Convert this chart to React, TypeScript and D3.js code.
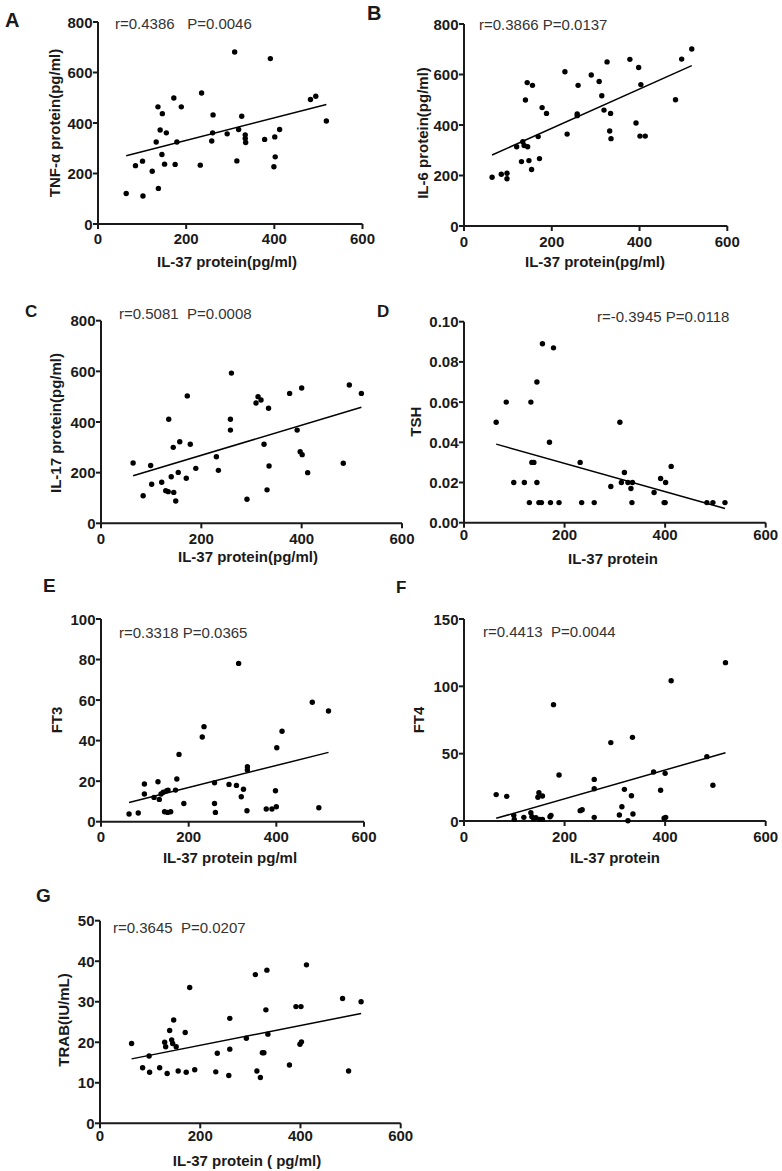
import React from "react";
import * as d3 from "d3";

// ---------- Data ----------
// A: TNF-α vs IL-37
const A_IL37 = [64, 85, 101, 102, 123, 132, 136, 137, 141, 146, 145, 151, 155, 172, 175, 179, 189, 232, 235, 258, 260, 261, 293, 310, 315, 319, 326, 334, 334, 335, 378, 391, 399, 401, 402, 412, 482, 494, 518];
const A_TNF = [121, 231, 249, 111, 209, 325, 464, 141, 372, 437, 275, 237, 361, 499, 236, 325, 464, 233, 519, 329, 361, 432, 357, 681, 250, 374, 427, 353, 339, 323, 335, 655, 227, 345, 266, 374, 493, 506, 408];
const A_FIT_X = [64, 518];
const A_FIT_Y = [270, 473];

// B: IL-6 vs IL-37
const B_IL37 = [64, 85, 98, 98, 120, 131, 134, 137, 140, 144, 145, 148, 154, 156, 169, 172, 178, 188, 230, 235, 258, 258, 260, 290, 308, 314, 319, 326, 332, 334, 335, 378, 392, 398, 401, 403, 413, 482, 496, 519];
const B_IL6 = [193, 205, 209, 187, 314, 255, 334, 319, 499, 568, 314, 259, 224, 557, 354, 267, 469, 446, 611, 364, 444, 437, 557, 598, 572, 516, 459, 650, 376, 446, 346, 660, 408, 628, 356, 560, 356, 500, 661, 701];
const B_FIT_X = [64, 519];
const B_FIT_Y = [281, 635];

// C: IL-17 vs IL-37
const C_IL37 = [64, 84, 99, 101, 121, 129, 134, 135, 140, 144, 145, 149, 154, 157, 170, 172, 178, 189, 230, 234, 258, 258, 260, 291, 309, 313, 319, 325, 331, 334, 335, 376, 391, 397, 400, 401, 412, 483, 495, 519];
const C_IL17 = [238, 109, 228, 154, 162, 129, 125, 411, 184, 300, 122, 88, 201, 322, 178, 503, 312, 217, 263, 209, 411, 368, 593, 95, 475, 500, 487, 312, 132, 454, 226, 513, 368, 283, 534, 271, 200, 237, 546, 513];
const C_FIT_X = [64, 519];
const C_FIT_Y = [188, 458];

// D: TSH vs IL-37
const D_IL37 = [64, 84, 99, 120, 130, 133, 135, 139, 145, 145, 149, 154, 156, 170, 172, 178, 189, 231, 234, 259, 292, 310, 313, 319, 326, 332, 335, 334, 378, 391, 398, 401, 400, 412, 483, 495, 519];
const D_TSH = [0.050, 0.060, 0.020, 0.020, 0.010, 0.060, 0.030, 0.030, 0.070, 0.020, 0.010, 0.010, 0.089, 0.040, 0.010, 0.087, 0.010, 0.030, 0.010, 0.010, 0.018, 0.050, 0.020, 0.025, 0.020, 0.017, 0.020, 0.010, 0.015, 0.022, 0.010, 0.020, 0.010, 0.028, 0.010, 0.010, 0.010];
const D_FIT_X = [64, 519];
const D_FIT_Y = [0.0391, 0.0071];

// E: FT3 vs IL-37
const E_IL37 = [64, 85, 99, 99, 121, 130, 133, 137, 142, 145, 150, 152, 153, 159, 170, 173, 178, 189, 231, 235, 259, 259, 261, 292, 309, 314, 320, 325, 333, 334, 334, 377, 390, 398, 400, 401, 413, 482, 497, 519];
const E_FT3 = [3.8, 4.3, 18.6, 13.7, 12.0, 19.7, 11.0, 13.7, 14.5, 4.9, 15.3, 4.6, 15.6, 4.9, 15.6, 21.1, 33.2, 9.0, 41.8, 46.9, 19.2, 9.0, 4.6, 18.4, 17.9, 78.1, 12.3, 16.0, 5.4, 27.1, 25.5, 6.3, 6.3, 15.3, 7.4, 36.5, 44.6, 58.9, 6.9, 54.6];
const E_FIT_X = [64, 519];
const E_FIT_Y = [9.5, 34.2];

// F: FT4 vs IL-37
const F_IL37 = [64, 85, 99, 100, 119, 133, 135, 139, 143, 147, 149, 151, 156, 156, 171, 173, 178, 189, 231, 235, 259, 259, 259, 292, 309, 314, 319, 326, 333, 335, 336, 377, 391, 398, 400, 401, 412, 483, 495, 520];
const F_FT4 = [19.6, 18.3, 4.2, 1.2, 2.7, 6.2, 3.2, 1.5, 2.5, 17.6, 21.0, 1.2, 18.6, 1.2, 3.2, 4.2, 86.4, 34.2, 7.7, 8.4, 30.9, 24.0, 2.7, 58.2, 4.5, 10.6, 23.5, 0.2, 18.8, 62.1, 5.2, 36.4, 22.8, 2.0, 35.4, 2.7, 104.2, 47.8, 26.5, 117.6];
const F_FIT_X = [64, 520];
const F_FIT_Y = [2.0, 50.7];

// G: TRAB vs IL-37
const G_IL37 = [63, 85, 98, 99, 119, 129, 131, 134, 139, 143, 145, 147, 152, 156, 170, 172, 179, 189, 231, 234, 257, 259, 259, 292, 310, 313, 320, 324, 327, 331, 333, 335, 378, 391, 401, 399, 402, 412, 484, 496, 521];
const G_TRAB = [19.7, 13.7, 16.6, 12.6, 13.7, 20.0, 18.9, 12.3, 22.9, 20.6, 19.7, 25.5, 18.9, 12.9, 22.4, 12.6, 33.5, 13.2, 12.7, 17.3, 11.8, 25.9, 18.3, 21.0, 36.7, 12.9, 11.3, 17.4, 17.4, 28.0, 37.8, 22.0, 14.4, 28.8, 28.8, 19.5, 20.1, 39.1, 30.8, 12.9, 30.0];
const G_FIT_X = [63, 521];
const G_FIT_Y = [15.9, 27.1];

const X_TICKS = [0, 200, 400, 600];
const TICKS_800 = [0, 200, 400, 600, 800];
const TICKS_TSH = [0, 0.02, 0.04, 0.06, 0.08, 0.1];
const TICKS_FT3 = [0, 20, 40, 60, 80, 100];
const TICKS_FT4 = [0, 50, 100, 150];
const TICKS_TRAB = [0, 10, 20, 30, 40, 50];

const STATS = [
  "r=0.4386   P=0.0046",
  "r=0.3866 P=0.0137",
  "r=0.5081  P=0.0008",
  "r=-0.3945 P=0.0118",
  "r=0.3318 P=0.0365",
  "r=0.4413  P=0.0044",
  "r=0.3645  P=0.0207",
];
const Y_TITLES = ["TNF-α protein(pg/ml)", "IL-6 protein(pg/ml)", "IL-17 protein(pg/ml)", "TSH", "FT3", "FT4", "TRAB(IU/mL)"];
const X_TITLES = ["IL-37 protein(pg/ml)", "IL-37 protein(pg/ml)", "IL-37 protein(pg/ml)", "IL-37 protein", "IL-37 protein pg/ml", "IL-37 protein", "IL-37 protein ( pg/ml)"];
const LETTERS = ["A", "B", "C", "D", "E", "F", "G"];

// ---------- Layout ----------
const intFmt = d3.format("d");
const PANELS = [
  { xs: A_IL37, ys: A_TNF, fx: A_FIT_X, fy: A_FIT_Y, yTicks: TICKS_800, fmt: intFmt,
    left: 98, right: 362.5, top: 22, bottom: 224,
    lx: 5, ly: 19.5, ls: 20, sx: 115, sy: 23, ytx: 54, yty: 123, xtx: 227, xty: 261, xld: 14.3 },
  { xs: B_IL37, ys: B_IL6, fx: B_FIT_X, fy: B_FIT_Y, yTicks: TICKS_800, fmt: intFmt,
    left: 464, right: 727.3, top: 24, bottom: 226,
    lx: 367, ly: 12.5, ls: 20, sx: 479, sy: 24.2, ytx: 422, yty: 133, xtx: 595, xty: 261, xld: 15.7 },
  { xs: C_IL37, ys: C_IL17, fx: C_FIT_X, fy: C_FIT_Y, yTicks: TICKS_800, fmt: intFmt,
    left: 101, right: 402, top: 320.7, bottom: 523.3,
    lx: 25, ly: 311, ls: 17, sx: 119, sy: 313.5, ytx: 55, yty: 423, xtx: 248, xty: 556.7, xld: 15 },
  { xs: D_IL37, ys: D_TSH, fx: D_FIT_X, fy: D_FIT_Y, yTicks: TICKS_TSH, fmt: d3.format(".2f"),
    left: 464, right: 765.7, top: 321.7, bottom: 522.7,
    lx: 377, ly: 311.7, ls: 17, sx: 597, sy: 316.5, ytx: 415, yty: 421.7, xtx: 613, xty: 558, xld: 11.8 },
  { xs: E_IL37, ys: E_FT3, fx: E_FIT_X, fy: E_FIT_Y, yTicks: TICKS_FT3, fmt: intFmt,
    left: 101, right: 364, top: 619, bottom: 821.7,
    lx: 43, ly: 585, ls: 19, sx: 119, sy: 632.5, ytx: 56, yty: 720, xtx: 230, xty: 857, xld: 15 },
  { xs: F_IL37, ys: F_FT4, fx: F_FIT_X, fy: F_FIT_Y, yTicks: TICKS_FT4, fmt: intFmt,
    left: 464, right: 765.7, top: 619, bottom: 821,
    lx: 396, ly: 587.5, ls: 17, sx: 483, sy: 631, ytx: 418, yty: 720, xtx: 615, xty: 857, xld: 15.7 },
  { xs: G_IL37, ys: G_TRAB, fx: G_FIT_X, fy: G_FIT_Y, yTicks: TICKS_TRAB, fmt: intFmt,
    left: 100, right: 400.7, top: 920.7, bottom: 1123.3,
    lx: 36, ly: 895, ls: 19, sx: 113, sy: 927.5, ytx: 63, yty: 1020, xtx: 247, xty: 1160, xld: 11.7 },
];

const FONT = "Arial, 'Liberation Sans', Helvetica, sans-serif";
const INK = "#1a1a1a";
const TICK = 5;

function Panel({ p, i }: { p: any; i: number }) {
  const x = d3.scaleLinear().domain([0, 600]).range([p.left, p.right]);
  const yMax = p.yTicks[p.yTicks.length - 1];
  const y = d3.scaleLinear().domain([0, yMax]).range([p.bottom, p.top]);
  const fit = d3.line<number>().x((d, k) => x(p.fx[k])).y((d, k) => y(p.fy[k]));
  return (
    <g>
      <text x={p.lx} y={p.ly} dominantBaseline="central" fontSize={p.ls} fontWeight="bold" fill={INK}>
        {LETTERS[i]}
      </text>
      <text x={p.sx} y={p.sy} dominantBaseline="central" fontSize={15} fill="#333" style={{ whiteSpace: "pre" }}>
        {STATS[i]}
      </text>
      {/* axes */}
      <line x1={p.left} x2={p.left} y1={p.top} y2={p.bottom} stroke={INK} strokeWidth={2} />
      <line x1={p.left} x2={p.right} y1={p.bottom} y2={p.bottom} stroke={INK} strokeWidth={2} />
      {p.yTicks.map((t: number) => (
        <g key={"y" + t}>
          <line x1={p.left - TICK} x2={p.left} y1={y(t)} y2={y(t)} stroke={INK} strokeWidth={2} />
          <text x={p.left - TICK - 0.5} y={y(t)} textAnchor="end" dominantBaseline="central" fontSize={15} fontWeight="bold" fill={INK}>
            {p.fmt(t)}
          </text>
        </g>
      ))}
      {X_TICKS.map((t) => (
        <g key={"x" + t}>
          <line x1={x(t)} x2={x(t)} y1={p.bottom} y2={p.bottom + TICK} stroke={INK} strokeWidth={2} />
          <text x={x(t)} y={p.bottom + p.xld} textAnchor="middle" dominantBaseline="central" fontSize={15} fontWeight="bold" fill={INK}>
            {t}
          </text>
        </g>
      ))}
      <text x={p.xtx} y={p.xty} textAnchor="middle" dominantBaseline="central" fontSize={15} fontWeight="bold" fill={INK}>
        {X_TITLES[i]}
      </text>
      <text transform={`translate(${p.ytx},${p.yty}) rotate(-90)`} textAnchor="middle" dominantBaseline="central" fontSize={15} fontWeight="bold" fill={INK}>
        {Y_TITLES[i]}
      </text>
      {/* fit line */}
      <path d={fit(p.fx) || ""} stroke="#000" strokeWidth={1.5} fill="none" />
      {/* points */}
      {p.xs.map((v: number, k: number) => (
        <circle key={k} cx={x(v)} cy={y(p.ys[k])} r={2.7} fill="#000" />
      ))}
    </g>
  );
}

export default function App() {
  return (
    <svg width={782} height={1171} style={{ position: "absolute", left: 0, top: 0, background: "#fff" }} fontFamily={FONT}>
      <rect x={0} y={0} width={782} height={1171} fill="#fff" />
      {PANELS.map((p, i) => (
        <Panel key={i} p={p} i={i} />
      ))}
    </svg>
  );
}
